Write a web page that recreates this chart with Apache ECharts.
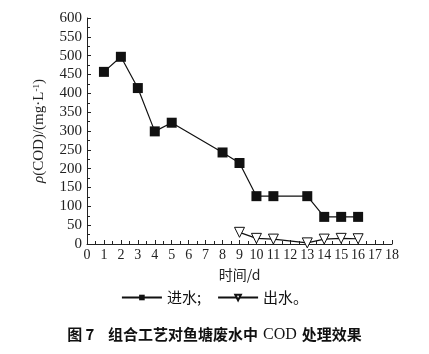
<!DOCTYPE html>
<html>
<head>
<meta charset="utf-8">
<script src="https://cdn.jsdelivr.net/npm/echarts@6/dist/echarts.min.js"></script>
<style>
  html, body { margin: 0; padding: 0; background: #fff; }
  #chart { width: 429px; height: 354px; }
</style>
</head>
<body>
<div id="chart"></div>
<script>
// 进水 / 出水 COD (mg/L) by day
const inDays = [1, 2, 3, 4, 5, 8, 9, 10, 11, 13, 14, 15, 16];
const inValues = [457, 497, 414, 299, 322, 243, 215, 127, 127, 127, 72, 72, 72];
const outDays = [9, 10, 11, 13, 14, 15, 16];
const outValues = [31, 15, 13, 3, 13, 15, 14];

const serif = '"Liberation Serif", "Noto Sans CJK SC", serif';
const cjk = '"Noto Sans CJK SC", "Liberation Serif", sans-serif';

function pairs (xs, ys) {
    return xs.map((x, i) => [x, ys[i]]);
}

const chart = echarts.init(document.getElementById('chart'));
chart.setOption({
    backgroundColor: '#fff',
    animation: false,
    grid: { left: 87, right: 37, top: 18, bottom: 110 },
    title: {
        text: '{b|图 7    组合工艺对鱼塘废水中} {c|COD} {b|处理效果}',
        left: 'center',
        top: 319,
        textStyle: {
            rich: {
                b: { fontFamily: cjk, fontSize: 15, fontWeight: 'bold', color: '#111', lineHeight: 20, verticalAlign: 'middle' },
                c: { fontFamily: serif, fontSize: 16, fontWeight: 'normal', color: '#111', lineHeight: 20, verticalAlign: 'middle', padding: [2, 0, 0, 0] }
            }
        }
    },
    legend: {
        top: 285,
        left: 'center',
        itemWidth: 40,
        itemHeight: 7,
        itemGap: 16,
        textStyle: { fontFamily: cjk, fontSize: 15, color: '#111' },
        data: [
            { name: '进水;' },
            { name: '出水。' }
        ]
    },
    xAxis: {
        type: 'value',
        min: 0,
        max: 18,
        interval: 1,
        name: '时间/d',
        nameLocation: 'middle',
        nameGap: 24,
        nameTextStyle: { fontFamily: cjk, fontSize: 14, color: '#222' },
        axisLine: { lineStyle: { color: '#222', width: 1 } },
        axisTick: { inside: true, length: 4, lineStyle: { color: '#222' } },
        minorTick: { show: true, splitNumber: 2, length: 3, lineStyle: { color: '#222' } },
        axisLabel: { fontFamily: serif, fontSize: 14, color: '#222', margin: 4 },
        splitLine: { show: false }
    },
    yAxis: {
        type: 'value',
        min: 0,
        max: 600,
        interval: 50,
        name: '{i|ρ}(COD)/(mg·L{s|-1})',
        nameLocation: 'middle',
        nameGap: 40,
        nameTextStyle: {
            fontFamily: serif, fontSize: 15, color: '#222',
            rich: {
                i: { fontFamily: serif, fontSize: 15, fontStyle: 'italic', color: '#222' },
                s: { fontFamily: serif, fontSize: 9, verticalAlign: 'top', color: '#222' }
            }
        },
        axisLine: { show: true, lineStyle: { color: '#222', width: 1 } },
        axisTick: { show: true, inside: true, length: 4, lineStyle: { color: '#222' } },
        minorTick: { show: true, splitNumber: 2, length: 3, lineStyle: { color: '#222' } },
        axisLabel: { fontFamily: serif, fontSize: 15, color: '#222', margin: 5 },
        splitLine: { show: false }
    },
    series: [
        {
            name: '进水;',
            type: 'line',
            data: pairs(inDays, inValues),
            symbol: 'rect',
            symbolSize: 10,
            lineStyle: { color: '#111', width: 1.2 },
            itemStyle: { color: '#111' }
        },
        {
            name: '出水。',
            type: 'line',
            data: pairs(outDays, outValues),
            symbol: 'triangle',
            symbolRotate: 180,
            symbolSize: 10,
            lineStyle: { color: '#111', width: 1.2 },
            itemStyle: { color: '#fff', borderColor: '#111', borderWidth: 1 }
        }
    ]
});
</script>
</body>
</html>
